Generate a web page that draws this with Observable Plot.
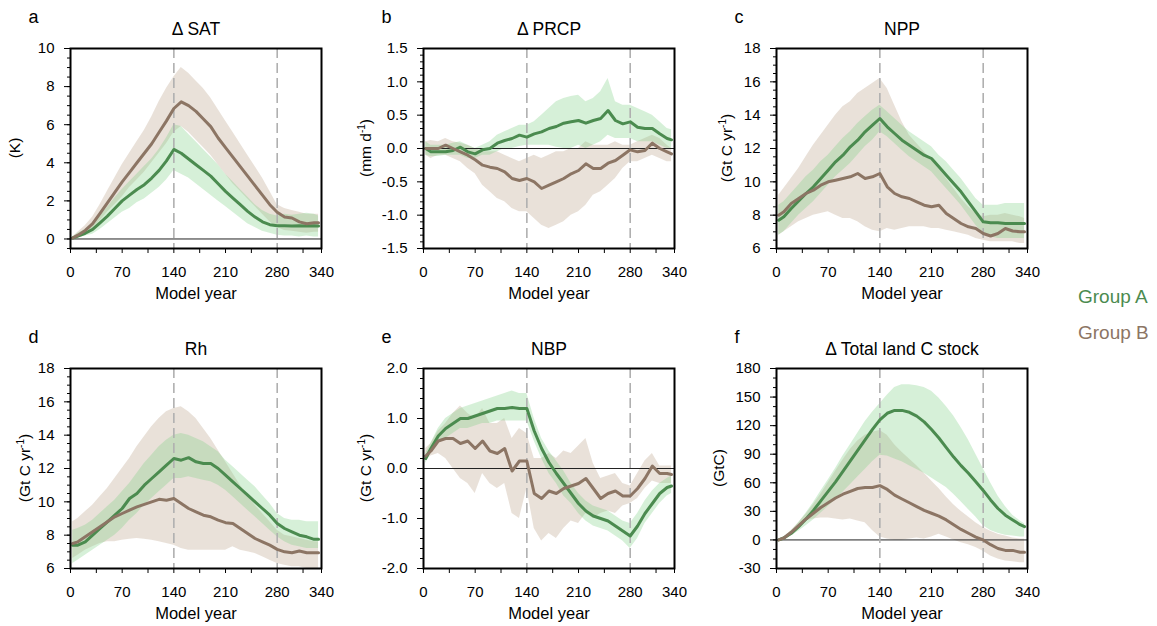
<!DOCTYPE html>
<html><head><meta charset="utf-8">
<script src="https://cdn.jsdelivr.net/npm/d3@7"></script>
<script src="https://cdn.jsdelivr.net/npm/@observablehq/plot@0.6"></script>
<style>
html,body{margin:0;padding:0;background:#fff;}
#wrap{position:relative;width:1157px;height:626px;font-family:"Liberation Sans",Arial,sans-serif;overflow:hidden;}
.panel{position:absolute;}
.legend{position:absolute;left:1078px;font-size:19px;line-height:22px;white-space:nowrap;}
</style></head><body><div id="wrap"></div>
<script>
// ---------- data ----------
const years = [3,10,20,30,40,50,60,70,80,90,100,110,120,130,140,150,160,170,180,190,200,210,220,230,240,250,260,270,280,290,300,310,320,330,336];
const periodMarks = [140, 280];
const xTickVals = [0,35,70,105,140,175,210,245,280,315,340];
const xLabelVals = [0,70,140,210,280,340];
const groupNames = ["Group A", "Group B"];

// a: Δ SAT (K)
const satA    = [0.05,0.15,0.3,0.5,0.85, 1.2,1.6,2.0,2.3,2.6, 2.85,3.2,3.6,4.1,4.7, 4.5,4.2,3.9,3.6,3.3, 2.9,2.5,2.15,1.8,1.45, 1.15,0.9,0.75,0.7,0.7, 0.68,0.7,0.68,0.7,0.68];
const satAlo  = [0,0.05,0.15,0.25,0.5, 0.8,1.1,1.4,1.6,1.9, 2.1,2.4,2.7,3.1,3.6, 3.4,3.2,2.9,2.6,2.3, 2.0,1.7,1.4,1.1,0.8, 0.6,0.4,0.3,0.2,0.15, 0.15,0.1,0.15,0.1,0.1];
const satAhi  = [0.1,0.3,0.5,0.8,1.25, 1.65,2.15,2.6,3.0,3.4, 3.8,4.2,4.7,5.3,6.0, 5.9,5.5,5.1,4.7,4.3, 3.9,3.4,3.0,2.6,2.2, 1.8,1.5,1.3,1.2,1.3, 1.25,1.3,1.35,1.3,1.2];
const satB    = [0.05,0.2,0.45,0.8,1.35, 1.9,2.45,3.0,3.5,4.0, 4.5,5.0,5.6,6.2,6.85, 7.2,7.0,6.7,6.3,5.9, 5.3,4.8,4.3,3.8,3.3, 2.8,2.3,1.8,1.4,1.15, 1.1,0.9,0.8,0.85,0.85];
const satBlo  = [0,0.1,0.3,0.55,0.95, 1.4,1.8,2.2,2.7,3.1, 3.5,4.0,4.5,5.0,5.6, 5.9,5.6,5.2,4.8,4.4, 3.9,3.4,2.9,2.5,2.1, 1.7,1.3,0.9,0.6,0.45, 0.4,0.35,0.3,0.35,0.35];
const satBhi  = [0.1,0.35,0.7,1.15,1.8, 2.5,3.2,3.9,4.5,5.1, 5.7,6.4,7.2,7.9,8.5, 9.0,8.7,8.3,7.9,7.4, 6.8,6.2,5.6,5.0,4.4, 3.8,3.2,2.5,1.8,1.6, 1.5,1.4,1.3,1.3,1.3];

// b: Δ PRCP (mm d-1)
const prA     = [0,-0.05,-0.05,-0.05,-0.03, 0.02,-0.05,-0.08,-0.02,0.0, 0.08,0.12,0.15,0.2,0.17, 0.22,0.25,0.3,0.33,0.38, 0.4,0.42,0.38,0.42,0.45, 0.57,0.42,0.37,0.4,0.32, 0.3,0.3,0.22,0.15,0.13];
const prAlo   = [-0.1,-0.12,-0.12,-0.1,-0.1, -0.1,-0.15,-0.15,-0.1,-0.1, -0.05,0,0,0.03,0.05, 0.05,0.05,0.05,0.02,0.0, 0.0,0.05,0.0,0.05,0.1, 0.2,0.15,0.15,0.15,0.1, 0.1,0.1,0.05,0.0,0.0];
const prAhi   = [0.1,0.05,0.05,0.05,0.08, 0.1,0.05,0.0,0.05,0.1, 0.2,0.25,0.3,0.35,0.35, 0.4,0.5,0.6,0.7,0.75, 0.78,0.8,0.7,0.75,0.85, 1.05,0.7,0.65,0.65,0.6, 0.55,0.5,0.4,0.3,0.28];
const prB     = [0,0.0,0.0,0.05,0.0, -0.05,-0.1,-0.17,-0.25,-0.28, -0.3,-0.35,-0.45,-0.48,-0.45, -0.5,-0.6,-0.55,-0.5,-0.45, -0.38,-0.33,-0.23,-0.3,-0.3, -0.22,-0.18,-0.1,-0.02,-0.05, -0.03,0.08,0.0,-0.05,-0.08];
const prBlo   = [-0.1,-0.15,-0.1,-0.1,-0.15, -0.2,-0.3,-0.38,-0.55,-0.65, -0.75,-0.8,-0.9,-0.95,-0.95, -1.05,-1.15,-1.2,-1.15,-1.1, -1.0,-0.95,-0.85,-0.7,-0.65, -0.55,-0.45,-0.3,-0.2,-0.2, -0.15,-0.1,-0.15,-0.2,-0.2];
const prBhi   = [0.1,0.12,0.1,0.15,0.1, 0.08,0.05,0.0,-0.05,-0.05, -0.05,-0.1,-0.15,-0.2,-0.15, -0.1,-0.15,-0.1,-0.05,-0.05, 0.0,0.0,0.1,0.05,0.05, 0.05,0.1,0.05,0.05,0.1, 0.15,0.2,0.15,0.05,0.0];

// c: NPP (Gt C yr-1)
const nppA    = [7.7,7.9,8.4,8.85,9.3, 9.7,10.2,10.7,11.2,11.6, 12.1,12.5,13.0,13.4,13.8, 13.3,12.9,12.5,12.2,11.9, 11.6,11.4,10.9,10.4,9.9, 9.4,8.8,8.2,7.6,7.55, 7.55,7.5,7.5,7.5,7.5];
const nppAlo  = [6.8,7.0,7.5,8.0,8.4, 8.8,9.3,9.8,10.3,10.7, 11.1,11.6,12.1,12.5,13.0, 12.7,12.3,11.9,11.5,11.2, 10.9,10.6,10.1,9.6,9.1, 8.6,8.0,7.4,6.9,6.7, 6.6,6.6,6.6,6.6,6.6];
const nppAhi  = [8.6,8.8,9.3,9.8,10.3, 10.7,11.2,11.6,12.1,12.6, 13.0,13.5,13.9,14.3,14.6, 14.2,13.8,13.4,13.0,12.7, 12.4,12.1,11.6,11.2,10.7, 10.2,9.6,9.0,8.6,8.6, 8.6,8.7,8.7,8.7,8.7];
const nppB    = [8.0,8.2,8.7,9.0,9.3, 9.5,9.8,10.0,10.1,10.2, 10.3,10.5,10.2,10.3,10.5, 9.7,9.3,9.1,9.0,8.8, 8.6,8.5,8.6,8.1,7.8, 7.5,7.3,7.2,6.9,6.75, 6.9,7.2,7.05,7.0,7.0];
const nppBlo  = [6.8,7.0,7.3,7.6,7.8, 8.0,8.1,8.2,8.0,7.8, 7.8,7.6,7.3,7.1,7.0, 7.2,7.1,7.2,7.3,7.3, 7.3,7.2,7.2,7.1,7.0, 6.9,6.8,6.6,6.5,6.4, 6.4,6.4,6.4,6.3,6.3];
const nppBhi  = [9.2,9.6,10.2,10.8,11.5, 12.2,12.8,13.4,14.0,14.5, 14.8,15.3,15.6,15.9,16.2, 15.6,14.6,13.6,12.8,12.3, 11.8,11.3,10.8,10.2,9.6, 9.0,8.5,8.1,7.9,8.0, 8.0,8.1,8.0,7.9,7.8];

// d: Rh (Gt C yr-1)
const rhA     = [7.4,7.4,7.6,8.0,8.4, 8.8,9.2,9.6,10.2,10.5, 11.0,11.4,11.8,12.2,12.6, 12.5,12.65,12.4,12.3,12.3, 12.0,11.6,11.2,10.8,10.4, 10.0,9.6,9.2,8.7,8.4, 8.2,8.0,7.9,7.75,7.75];
const rhAlo   = [6.3,6.5,6.8,7.1,7.4, 7.7,8.0,8.4,8.9,9.3, 9.8,10.2,10.6,11.0,11.4, 11.4,11.5,11.4,11.3,11.2, 11.0,10.7,10.3,9.9,9.5, 9.1,8.7,8.3,7.9,7.6, 7.4,7.3,7.2,7.2,7.2];
const rhAhi   = [8.3,8.4,8.6,8.9,9.3, 9.7,10.1,10.6,11.1,11.7, 12.3,12.8,13.3,13.7,14.0, 14.1,14.0,13.8,13.6,13.3, 13.0,12.5,12.1,11.7,11.3, 10.9,10.4,9.9,9.3,9.0, 8.9,8.9,8.8,8.8,8.8];
const rhB     = [7.5,7.6,7.9,8.2,8.5, 8.8,9.1,9.3,9.5,9.7, 9.85,10.0,10.15,10.1,10.2, 9.9,9.6,9.4,9.2,9.1, 8.9,8.75,8.7,8.4,8.1, 7.8,7.6,7.4,7.15,7.0, 6.95,7.05,6.95,6.95,6.95];
const rhBlo   = [6.6,6.8,7.1,7.3,7.5, 7.6,7.6,7.7,7.75,7.8, 7.75,7.7,7.6,7.5,7.4, 7.2,7.1,7.1,7.1,7.1, 7.1,7.1,7.3,7.1,7.0, 6.9,6.7,6.5,6.3,6.2, 6.1,6.1,6.0,6.0,6.0];
const rhBhi   = [8.8,9.0,9.4,9.8,10.3, 10.8,11.4,12.0,12.6,13.3, 13.9,14.5,15.0,15.4,15.6, 15.7,15.4,15.0,14.4,13.8, 13.1,12.4,11.7,11.0,10.4, 9.8,9.3,8.8,8.3,8.0, 7.9,7.8,7.7,7.6,7.6];

// e: NBP (Gt C yr-1)
const nbpA    = [0.2,0.4,0.65,0.8,0.9, 1.0,1.0,1.05,1.1,1.15, 1.2,1.2,1.22,1.2,1.2, 0.75,0.4,0.12,-0.1,-0.3, -0.5,-0.7,-0.85,-0.95,-1.0, -1.05,-1.15,-1.25,-1.35,-1.15, -0.9,-0.7,-0.5,-0.38,-0.35];
const nbpAlo  = [0.1,0.3,0.5,0.6,0.7, 0.8,0.8,0.85,0.9,0.9, 0.95,0.95,0.95,0.95,0.95, 0.55,0.2,-0.1,-0.3,-0.55, -0.7,-0.9,-1.05,-1.15,-1.2, -1.25,-1.35,-1.45,-1.6,-1.4, -1.1,-0.9,-0.7,-0.55,-0.5];
const nbpAhi  = [0.3,0.5,0.8,1.0,1.1, 1.2,1.25,1.3,1.35,1.4, 1.45,1.5,1.55,1.5,1.5, 1.0,0.6,0.35,0.15,-0.05, -0.3,-0.5,-0.65,-0.75,-0.8, -0.85,-0.95,-1.05,-1.1,-0.9, -0.65,-0.45,-0.3,-0.2,-0.15];
const nbpB    = [0.25,0.35,0.55,0.6,0.6, 0.5,0.55,0.4,0.55,0.35, 0.3,0.4,-0.05,0.15,0.15, -0.5,-0.6,-0.45,-0.5,-0.4, -0.35,-0.3,-0.2,-0.4,-0.6, -0.5,-0.45,-0.55,-0.55,-0.4, -0.2,0.05,-0.1,-0.1,-0.12];
const nbpBlo  = [0.15,0.25,0.3,0.2,0.0, -0.2,-0.3,-0.5,-0.1,-0.3, -0.4,-0.3,-0.9,-1.0,-0.4, -1.2,-1.45,-1.3,-1.4,-1.2, -1.05,-1.1,-0.9,-1.0,-0.9, -0.85,-0.9,-0.75,-0.7,-0.6, -0.4,-0.25,-0.3,-0.3,-0.3];
const nbpBhi  = [0.4,0.5,0.75,0.9,1.1, 1.25,1.1,1.0,1.2,0.9, 0.9,1.0,0.6,0.8,0.7, 0.2,0.2,0.3,0.2,0.35, 0.3,0.45,0.6,0.1,-0.2, -0.15,-0.1,-0.3,-0.35,-0.1, 0.15,0.3,0.05,0.05,0.05];

// f: Δ Total land C stock (GtC)
const lcA     = [0,2,7,14,22, 31,41,51,61,72, 83,94,105,116,126, 133,136,136,134,130, 124,116,107,97,87, 78,70,61,52,42, 33,26,21,16,14];
const lcAlo   = [0,1,4,9,15, 21,28,35,42,50, 58,66,74,82,89, 88,85,82,78,74, 70,65,60,55,48, 40,32,24,15,10, 7,5,4,3,3];
const lcAhi   = [0,3,9,18,28, 39,51,63,75,88, 100,112,124,134,143, 152,160,163,163,162, 160,156,149,140,130, 118,105,90,75,60, 46,35,26,20,17];
const lcB     = [0,2,8,15,22, 28,34,39,44,48, 51,54,55,55,57, 53,47,43,39,35, 31,28,25,21,16, 11,7,3,0,-5, -9,-11,-11,-13,-13];
const lcBlo   = [0,1,6,14,20, 22,23,23,22,21, 22,20,18,10,3, 1,0,0,1,2, 1,3,6,3,0, -3,-5,-8,-12,-17, -20,-22,-23,-24,-24];
const lcBhi   = [0,3,10,18,27, 37,48,60,72,84, 95,104,110,113,115, 110,100,92,85,78, 70,62,54,45,37, 30,24,18,13,9, 6,4,2,1,1];

// ---------- styling ----------
const GREEN = "#4b8b4f", BROWN = "#8c7564";
const GREEN_BAND = "#7fcf85", BROWN_BAND = "#c9b3a0";
const FONT = '"Liberation Sans", Arial, Helvetica, sans-serif';

const range = (a, b, s) => { const n = Math.round((b - a) / s); return Array.from({length: n + 1}, (_, i) => +(a + i * s).toFixed(4)); };

const panels = [
  {letter:"a", title:"\u0394 SAT", ylab:["(K)"], labOff:55, domain:[-0.5,10], majors:range(0,10,2), minors:range(-0.5,10,0.5), fmt:d=>String(d), zero:true,
   a:satA, alo:satAlo, ahi:satAhi, b:satB, blo:satBlo, bhi:satBhi},
  {letter:"b", title:"\u0394 PRCP", ylab:["(mm d","-1",")"], labOff:57, domain:[-1.5,1.5], majors:range(-1.5,1.5,0.5), minors:range(-1.5,1.5,0.1), fmt:d=>d.toFixed(1), zero:true,
   a:prA, alo:prAlo, ahi:prAhi, b:prB, blo:prBlo, bhi:prBhi},
  {letter:"c", title:"NPP", ylab:["(Gt C yr","-1",")"], labOff:49, domain:[6,18], majors:range(6,18,2), minors:range(6,18,0.5), fmt:d=>String(d), zero:false,
   a:nppA, alo:nppAlo, ahi:nppAhi, b:nppB, blo:nppBlo, bhi:nppBhi},
  {letter:"d", title:"Rh", ylab:["(Gt C yr","-1",")"], labOff:45, domain:[6,18], majors:range(6,18,2), minors:range(6,18,0.5), fmt:d=>String(d), zero:false,
   a:rhA, alo:rhAlo, ahi:rhAhi, b:rhB, blo:rhBlo, bhi:rhBhi},
  {letter:"e", title:"NBP", ylab:["(Gt C yr","-1",")"], labOff:57, domain:[-2,2], majors:range(-2,2,1), minors:range(-2,2,0.2), fmt:d=>d.toFixed(1), zero:true,
   a:nbpA, alo:nbpAlo, ahi:nbpAhi, b:nbpB, blo:nbpBlo, bhi:nbpBhi},
  {letter:"f", title:"\u0394 Total land C stock", ylab:["(GtC)"], labOff:57, domain:[-30,180], majors:range(-30,180,30), minors:range(-30,180,10), fmt:d=>String(d), zero:true,
   a:lcA, alo:lcAlo, ahi:lcAhi, b:lcB, blo:lcBlo, bhi:lcBhi}
];

const W = 353, H = 320, ML = 70, MR = 32, MT = 48, MB = 72;
const wrap = document.getElementById("wrap");

panels.forEach((p, k) => {
  for (const key of ["a","alo","ahi","b","blo","bhi"]) {
    if (p[key].length !== years.length) throw new Error(`panel ${p.letter} ${key} length ${p[key].length}`);
  }
  const data = years.map((x, i) => ({x, am:p.a[i], alo:p.alo[i], ahi:p.ahi[i], bm:p.b[i], blo:p.blo[i], bhi:p.bhi[i]}));
  const marks = [
    Plot.areaY(data, {x:"x", y1:"blo", y2:"bhi", fill:BROWN_BAND, fillOpacity:0.4}),
    Plot.areaY(data, {x:"x", y1:"alo", y2:"ahi", fill:GREEN_BAND, fillOpacity:0.32})
  ];
  if (p.zero) marks.push(Plot.ruleY([0], {stroke:"#222", strokeWidth:1}));
  marks.push(
    Plot.ruleX(periodMarks, {stroke:"#b0b0b0", strokeWidth:1.6, strokeDasharray:"10,5"}),
    Plot.lineY(data, {x:"x", y:"am", stroke:GREEN, strokeWidth:3, strokeLinejoin:"round"}),
    Plot.lineY(data, {x:"x", y:"bm", stroke:BROWN, strokeWidth:3, strokeLinejoin:"round"}),
    Plot.frame({stroke:"black", strokeWidth:2}),
    Plot.axisY({ticks:p.minors, tickSize:3, tickFormat:() => "", label:null}),
    Plot.axisY({ticks:p.majors, tickSize:6, tickPadding:10, tickFormat:p.fmt, label:null, fontSize:15}),
    Plot.axisX({ticks:xTickVals, tickSize:5, tickPadding:13, tickFormat:d => xLabelVals.includes(d) ? String(d) : "", label:null, fontSize:15}),
    Plot.text(["Model year"], {text:d => d, frameAnchor:"bottom", lineAnchor:"middle", dy:45, fontSize:16.5}),
    Plot.text([p.title], {text:d => d, frameAnchor:"top", lineAnchor:"middle", dy:-19, fontSize:17.5}),
    Plot.text([p.letter], {text:d => d, frameAnchor:"top-left", lineAnchor:"middle", textAnchor:"start", dx:-42, dy:-31, fontSize:18})
  );
  const svg = Plot.plot({
    width:W, height:H, marginLeft:ML, marginRight:MR, marginTop:MT, marginBottom:MB,
    x:{domain:[0,340], label:null},
    y:{domain:p.domain, label:null},
    style:{fontFamily:FONT, fontSize:"15px", color:"black", background:"transparent", overflow:"visible"},
    marks
  });
  // rotated y-axis label with superscript
  const t = d3.select(svg).append("text")
    .attr("transform", `translate(${ML - p.labOff},${MT + (H - MT - MB) / 2}) rotate(-90)`)
    .attr("text-anchor", "middle").attr("dy", "0.35em")
    .attr("font-size", 15.5).attr("font-family", FONT).attr("fill", "black");
  if (p.ylab.length === 1) t.text(p.ylab[0]);
  else {
    t.append("tspan").text(p.ylab[0]);
    t.append("tspan").attr("dy", -6).attr("font-size", 10).text(p.ylab[1]);
    t.append("tspan").attr("dy", 6).text(p.ylab[2]);
  }
  const div = document.createElement("div");
  div.className = "panel";
  div.style.left = (k % 3) * W + "px";
  div.style.top = Math.floor(k / 3) * H + "px";
  div.appendChild(svg);
  wrap.appendChild(div);
});

// legend
[[groupNames[0], GREEN, 286], [groupNames[1], BROWN, 322]].forEach(([name, color, top]) => {
  const d = document.createElement("div");
  d.className = "legend";
  d.style.top = top + "px";
  d.style.color = color;
  d.textContent = name;
  wrap.appendChild(d);
});
</script></body></html>
